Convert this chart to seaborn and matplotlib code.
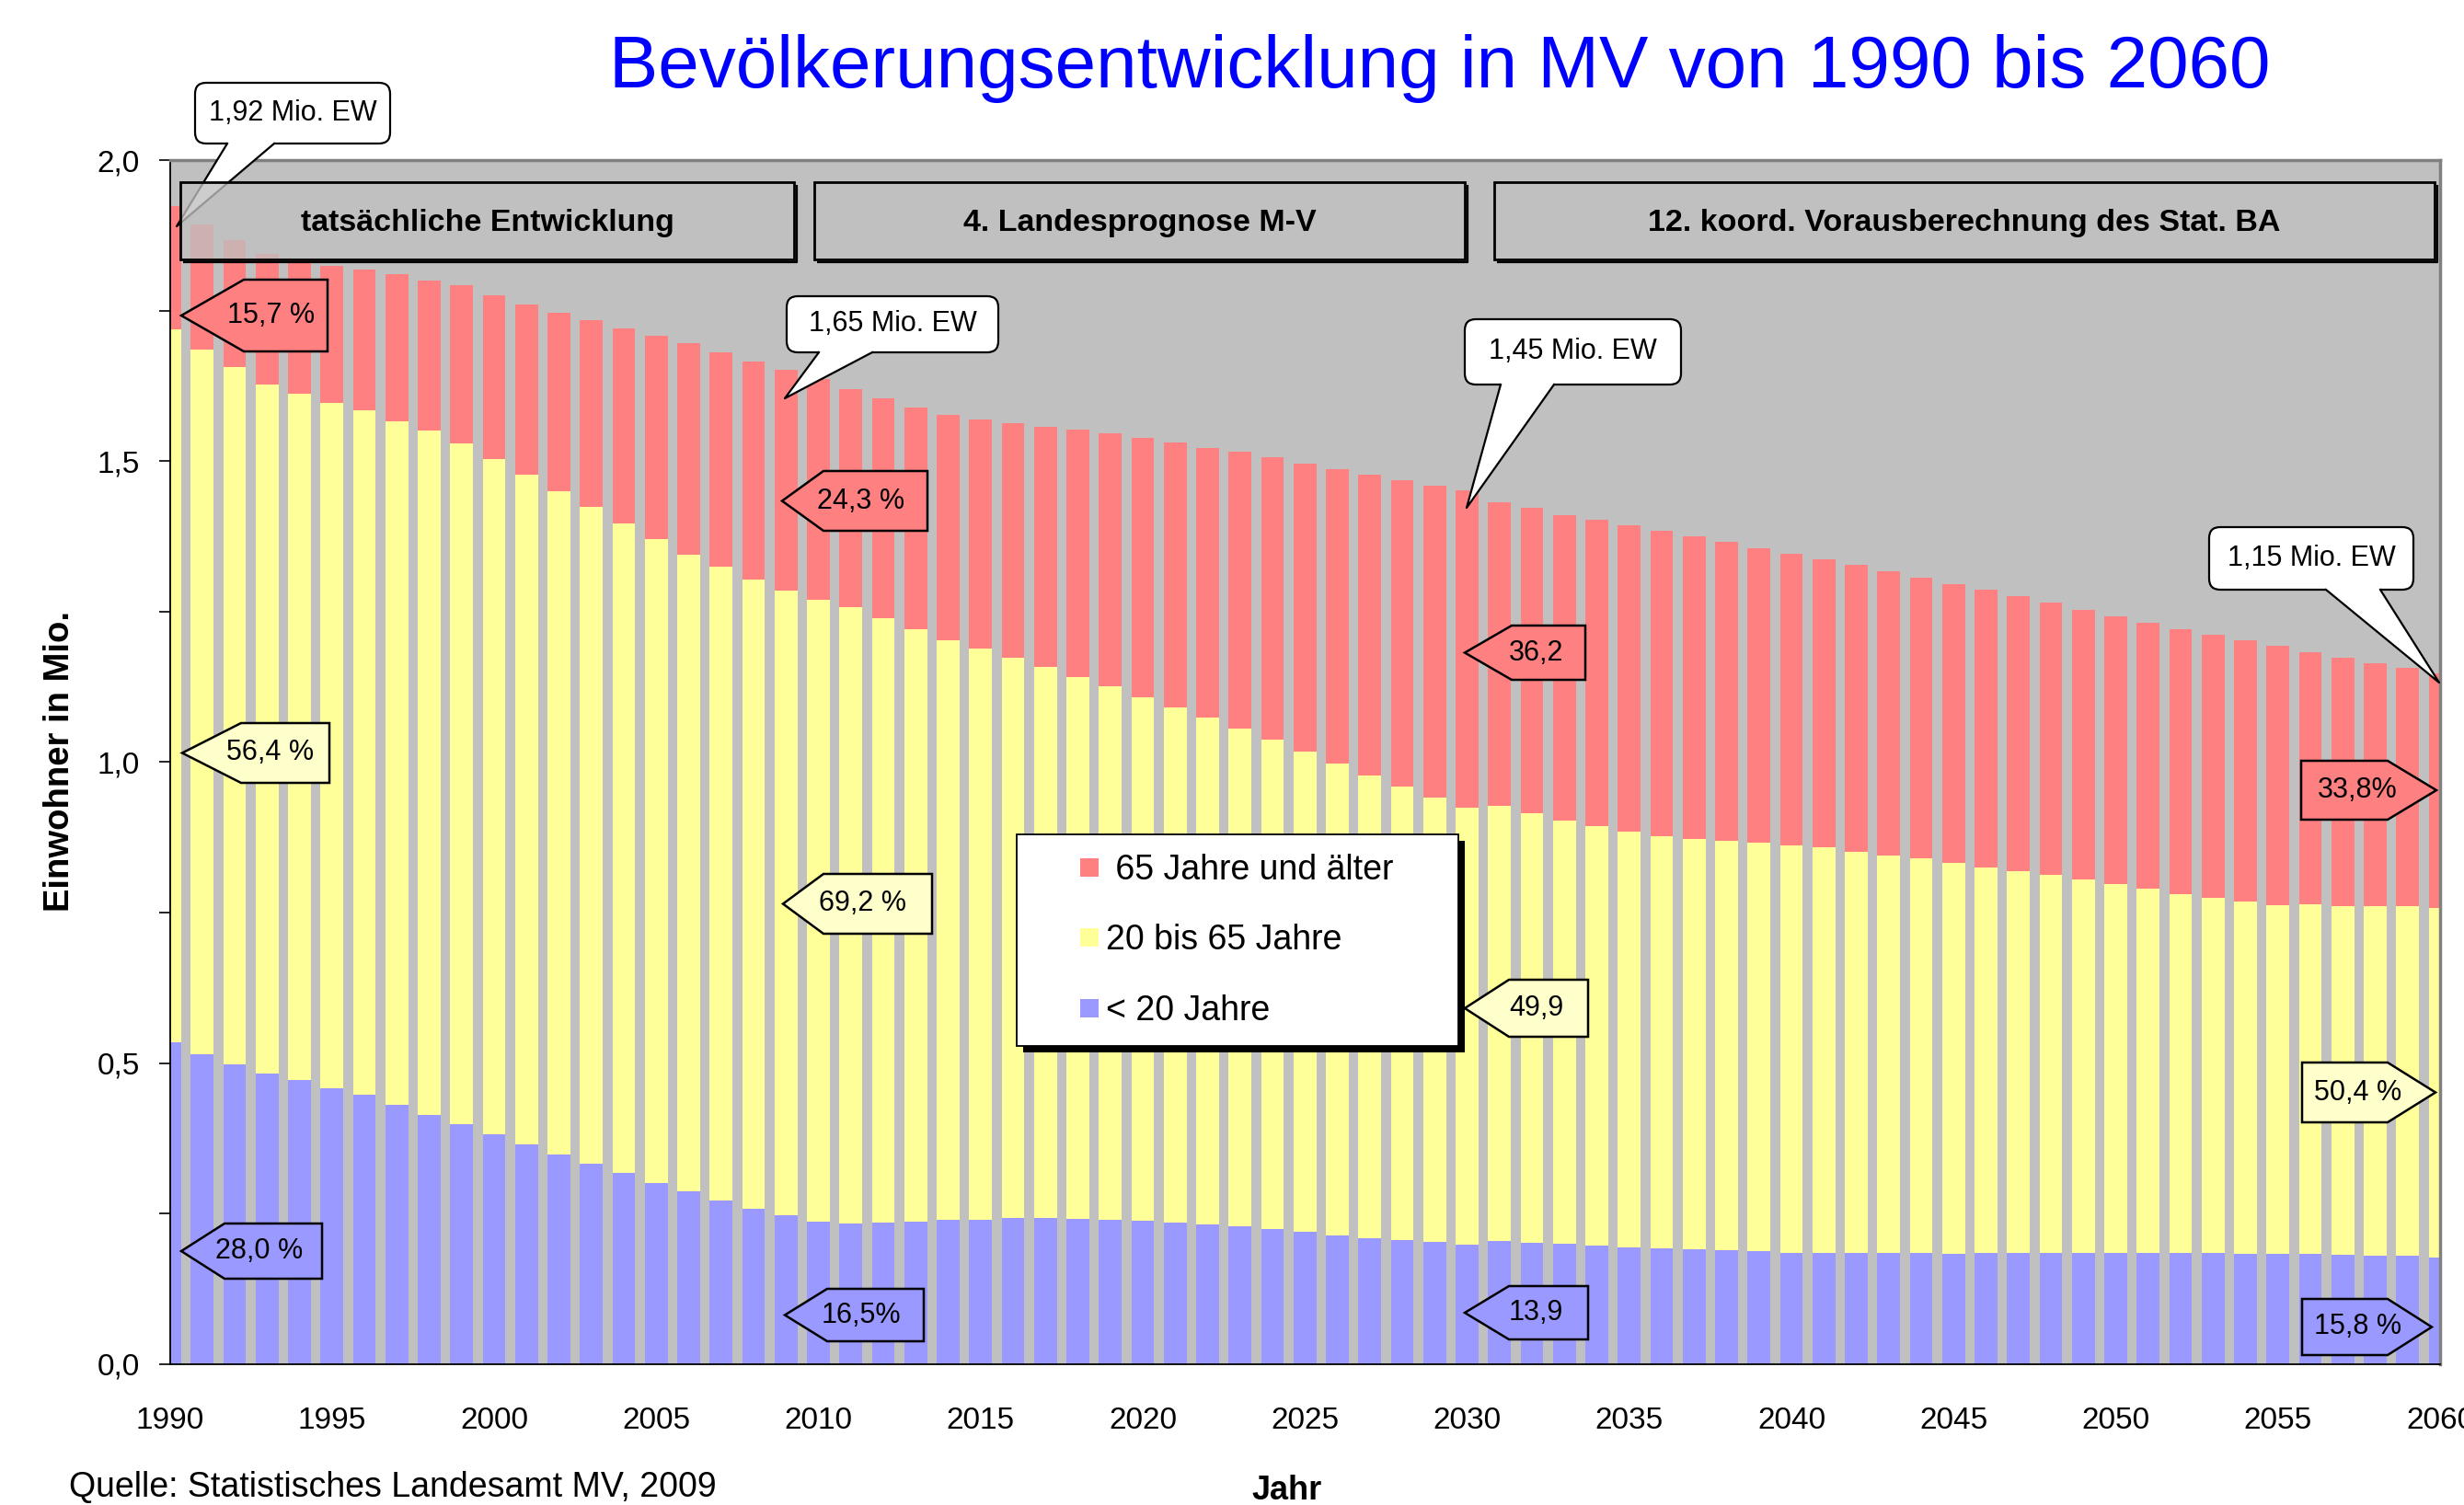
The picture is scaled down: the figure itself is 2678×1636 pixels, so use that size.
import numpy as np
import pandas as pd
import matplotlib
matplotlib.use("Agg")
import matplotlib.pyplot as plt
import seaborn as sns
from matplotlib.patches import FancyBboxPatch, Polygon, Rectangle
from matplotlib.lines import Line2D

plt.rcParams['font.family'] = ['Liberation Sans', 'DejaVu Sans']

# Einwohner in Mio., 1990 - 2060
jahre = list(range(1990, 2061))
gesamt = [1.924, 1.893, 1.867, 1.845, 1.834, 1.825, 1.819, 1.810, 1.800, 1.792,
          1.776, 1.761, 1.747, 1.735, 1.721, 1.709, 1.696, 1.681, 1.666, 1.652,
          1.637, 1.620, 1.604, 1.589, 1.577, 1.569, 1.563, 1.557, 1.553, 1.546,
          1.539, 1.531, 1.522, 1.515, 1.506, 1.496, 1.487, 1.478, 1.469, 1.459,
          1.451, 1.431, 1.422, 1.410, 1.402, 1.394, 1.384, 1.375, 1.366, 1.356,
          1.346, 1.337, 1.328, 1.317, 1.307, 1.296, 1.286, 1.275, 1.265, 1.253,
          1.242, 1.232, 1.221, 1.211, 1.202, 1.193, 1.183, 1.173, 1.164, 1.156,
          1.148]
unter_65 = [1.719, 1.686, 1.656, 1.628, 1.612, 1.596, 1.584, 1.566, 1.551, 1.530,
            1.504, 1.477, 1.450, 1.424, 1.397, 1.371, 1.345, 1.324, 1.303, 1.285,
            1.269, 1.258, 1.239, 1.220, 1.203, 1.188, 1.173, 1.158, 1.141, 1.126,
            1.107, 1.091, 1.074, 1.056, 1.037, 1.018, 0.997, 0.977, 0.959, 0.941,
            0.924, 0.927, 0.915, 0.903, 0.894, 0.884, 0.877, 0.872, 0.869, 0.866,
            0.861, 0.858, 0.851, 0.845, 0.840, 0.832, 0.825, 0.819, 0.812, 0.805,
            0.797, 0.790, 0.781, 0.775, 0.769, 0.762, 0.763, 0.760, 0.760, 0.760,
            0.758]
unter_20 = [0.535, 0.514, 0.497, 0.482, 0.471, 0.458, 0.447, 0.431, 0.414, 0.399,
            0.381, 0.365, 0.348, 0.333, 0.317, 0.301, 0.286, 0.272, 0.258, 0.247,
            0.236, 0.234, 0.235, 0.237, 0.239, 0.240, 0.242, 0.242, 0.241, 0.240,
            0.238, 0.235, 0.231, 0.228, 0.224, 0.219, 0.213, 0.209, 0.206, 0.203,
            0.198, 0.204, 0.201, 0.199, 0.197, 0.194, 0.192, 0.191, 0.189, 0.187,
            0.185, 0.184, 0.184, 0.184, 0.184, 0.183, 0.184, 0.184, 0.184, 0.184,
            0.184, 0.184, 0.184, 0.184, 0.183, 0.183, 0.183, 0.181, 0.179, 0.179,
            0.177]

legend_labels = [' 65 Jahre und älter', '20 bis 65 Jahre', '< 20 Jahre']
phasen = ['tatsächliche Entwicklung', '4. Landesprognose M-V',
          '12. koord. Vorausberechnung des Stat. BA']

ROT, GELB, BLAU = '#FF8080', '#FFFF99', '#9999FF'
GELB_HELL = '#FFFFCC'
GRAU = '#C0C0C0'

df = pd.DataFrame({'Jahr': jahre, 'gesamt': gesamt,
                   'unter_65': unter_65, 'unter_20': unter_20})

W_PX, H_PX = 2678, 1636
AX_L, AX_R, AX_T, AX_B = 184.5, 2652.0, 174.2, 1482.6

fig = plt.figure(figsize=(W_PX / 100, H_PX / 100), dpi=100)
ax = fig.add_axes([AX_L / W_PX, 1 - AX_B / H_PX,
                   (AX_R - AX_L) / W_PX, (AX_B - AX_T) / H_PX])
ax.set_facecolor(GRAU)

# stacked look: draw cumulative totals on top of each other
for col, color in [('gesamt', ROT), ('unter_65', GELB), ('unter_20', BLAU)]:
    sns.barplot(data=df, x='Jahr', y=col, color=color, saturation=1, width=0.7,
                native_scale=True, orient='x', linewidth=0, errorbar=None, ax=ax)

ax.set_xlim(1990, 2060)
ax.set_ylim(0, 2.0)
ax.set_xlabel('')
ax.set_ylabel('')

ax.set_xticks(range(1990, 2061, 5))
ax.set_xticklabels([str(j) for j in range(1990, 2061, 5)])
ax.set_xticks(range(1990, 2061, 10), minor=True)
ax.tick_params(axis='x', which='major', length=0, pad=33.5, labelsize=24)
ax.tick_params(axis='x', which='minor', length=8.6, width=1.2, color='black')
yt = [0, 0.5, 1.0, 1.5, 2.0]
ax.set_yticks(yt)
ax.set_yticklabels([f"{v:.1f}".replace('.', ',') for v in yt])
ax.set_yticks([0.25, 0.75, 1.25, 1.75], minor=True)
ax.tick_params(axis='y', which='both', length=8.6, width=1.2, color='black', direction='out')
ax.tick_params(axis='y', which='major', pad=14.8, labelsize=24)

for s in ['top', 'right']:
    ax.spines[s].set_color('#808080')
    ax.spines[s].set_linewidth(2.5)
for s in ['left', 'bottom']:
    ax.spines[s].set_color('black')
    ax.spines[s].set_linewidth(1.3)


# helpers: reference pixel -> data coordinates
def dx(px):
    return 1990 + (px - AX_L) / ((AX_R - AX_L) / 70)


def dy(py):
    return (AX_B - py) / ((AX_B - AX_T) / 2.0)


# header boxes
kopf = [(196, 863), (885, 1592), (1624, 2646)]
for (x0, x1), txt in zip(kopf, phasen):
    y0, y1 = 198, 282
    ax.add_patch(Rectangle((dx(x0), dy(y1)), dx(x1) - dx(x0), dy(y0) - dy(y1),
                           facecolor=GRAU, alpha=0.78, edgecolor='none', zorder=14, clip_on=False))
    ax.add_patch(Rectangle((dx(x0), dy(y1)), dx(x1) - dx(x0), dy(y0) - dy(y1),
                           facecolor='none', edgecolor='black', lw=2, zorder=15, clip_on=False))
    ax.plot([dx(x0 + 3), dx(x1 + 3), dx(x1 + 3)], [dy(y1 + 3), dy(y1 + 3), dy(y0 + 3)],
            color='black', lw=1.6, zorder=15, clip_on=False, solid_capstyle='butt')
    ax.text(dx((x0 + x1) / 2), dy((y0 + y1) / 2 + 2), txt, ha='center', va='center',
            fontsize=24.5, fontweight='bold', zorder=16)

# callouts (rounded white boxes with wedge)
aspect = ((AX_B - AX_T) / 2.0) ** -1 / ((AX_R - AX_L) / 70) ** -1
callouts = [
    ('1,92 Mio. EW', (212, 90, 424, 156), (247, 298), (192, 246)),
    ('1,65 Mio. EW', (855, 322, 1085, 383), (890, 948), (853, 433)),
    ('1,45 Mio. EW', (1592, 347, 1827, 418), (1631, 1689), (1594, 552)),
    ('1,15 Mio. EW', (2401, 573, 2623, 641), (2528, 2587), (2651, 742)),
]
for txt, (x0, y0, x1, y1), (b0, b1), (tx, ty) in callouts:
    box = FancyBboxPatch((dx(x0), dy(y1)), dx(x1) - dx(x0), dy(y0) - dy(y1),
                         boxstyle=f"round,pad=0,rounding_size={12 / 35.25}",
                         mutation_aspect=aspect, facecolor='white', edgecolor='black',
                         lw=1.6, zorder=10, clip_on=False)
    ax.add_patch(box)
    pts = [(b0, y1 - 5), (b0, y1), (tx, ty), (b1, y1), (b1, y1 - 5)]
    ax.add_patch(Polygon([(dx(p), dy(q)) for p, q in pts], closed=True,
                         facecolor='white', edgecolor='none', zorder=11, clip_on=False))
    ax.plot([dx(b0), dx(tx), dx(b1)], [dy(y1), dy(ty), dy(y1)], color='black',
            lw=1.6, zorder=12, clip_on=False)
    ax.text(dx((x0 + x1) / 2), dy((y0 + y1) / 2), txt, ha='center', va='center',
            fontsize=22, zorder=13)

# percentage tags (tip_x, notch_x, far_x, top, bottom in reference pixels)
tags = [
    ('15,7 %', ROT, 197, 265, 356, 304, 382),
    ('24,3 %', ROT, 850, 895, 1008, 512, 577),
    ('36,2', ROT, 1592, 1643, 1723, 680, 739),
    ('33,8%', ROT, 2648, 2595, 2501, 827, 891),
    ('56,4 %', GELB_HELL, 198, 262, 358, 786, 851),
    ('69,2 %', GELB_HELL, 851, 895, 1013, 950, 1015),
    ('49,9', GELB_HELL, 1592, 1640, 1726, 1065, 1127),
    ('50,4 %', GELB_HELL, 2647, 2595, 2502, 1155, 1220),
    ('28,0 %', BLAU, 197, 244, 350, 1330, 1390),
    ('16,5%', BLAU, 853, 899, 1004, 1401, 1458),
    ('13,9', BLAU, 1592, 1640, 1726, 1398, 1456),
    ('15,8 %', BLAU, 2643, 2595, 2502, 1412, 1473),
]
for txt, color, tip, notch, far, top, bot in tags:
    mid = (top + bot) / 2
    pts = [(tip, mid), (notch, top), (far, top), (far, bot), (notch, bot)]
    ax.add_patch(Polygon([(dx(p), dy(q)) for p, q in pts], closed=True,
                         facecolor=color, edgecolor='black', lw=1.8, zorder=8, clip_on=False))
    cx = (notch + far) / 2 + 0.1 * (tip - far)
    ax.text(dx(cx), dy(mid), txt, ha='center', va='center', fontsize=22, zorder=9)

# legend
handles = [Line2D([], [], marker='s', ls='none', markersize=15,
                  markerfacecolor=c, markeredgewidth=0) for c in [ROT, GELB, BLAU]]
lx0 = (1105 - AX_L) / (AX_R - AX_L)
lx1 = (1585 - AX_L) / (AX_R - AX_L)
ly = (AX_B - 907) / (AX_B - AX_T)
leg = ax.legend(handles, legend_labels, loc='upper left',
                bbox_to_anchor=(lx0, ly - 0.2, lx1 - lx0, 0.2), mode='expand',
                borderaxespad=0, fontsize=27, frameon=True, fancybox=False,
                edgecolor='black', framealpha=1, borderpad=0.55, labelspacing=1.08,
                handlelength=3.1, handletextpad=-1.07)
leg.get_frame().set_linewidth(1.3)
leg.set_zorder(20)

fig.canvas.draw()
bb = leg.get_window_extent().transformed(ax.transAxes.inverted())
ax.add_patch(Rectangle((bb.x0 + 7 / (AX_R - AX_L), bb.y0 - 7 / (AX_B - AX_T)),
                       bb.width, bb.height, transform=ax.transAxes, facecolor='black',
                       edgecolor='none', zorder=19, clip_on=False))

# texts around the chart
fig.text(1565 / W_PX, 1 - 75 / H_PX, 'Bevölkerungsentwicklung in MV von 1990 bis 2060',
         ha='center', va='center', fontsize=57.6, color='#0000FF')
fig.text(65 / W_PX, 1 - 828 / H_PX, 'Einwohner in Mio.', rotation=90,
         ha='center', va='center', fontsize=27.5, fontweight='bold')
fig.text(1399 / W_PX, 1 - 1621 / H_PX, 'Jahr', ha='center', va='center',
         fontsize=26, fontweight='bold')
fig.text(75 / W_PX, 1 - 1617 / H_PX, 'Quelle: Statistisches Landesamt MV, 2009',
         ha='left', va='center', fontsize=27)

fig.savefig('out.png', dpi=100, facecolor='white')
